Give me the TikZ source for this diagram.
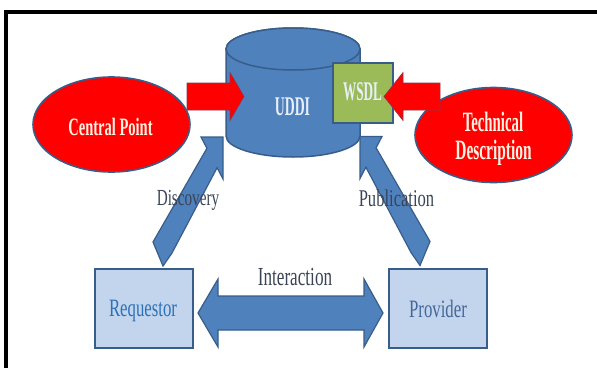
\documentclass[tikz,border=0pt]{standalone}
\usepackage{fontspec}
\setmainfont{Liberation Serif}
\usetikzlibrary{shapes.geometric,calc}

\definecolor{accent}{HTML}{4F81BD}
\definecolor{edge}{HTML}{385D8A}
\definecolor{leaf}{HTML}{9BBB59}
\definecolor{pale}{HTML}{C3D5EC}
\definecolor{hot}{HTML}{FF0000}
\definecolor{ink}{HTML}{3A4456}
\definecolor{cream}{HTML}{FFF3E4}
\definecolor{frost}{HTML}{E8EFF8}
\definecolor{reqblue}{HTML}{2C71B8}
\definecolor{provblue}{HTML}{44679A}

% horizontally condensed text
\newcommand\sq[2]{\scalebox{#1}[1]{#2}}

\tikzset{
  redblob/.style={ellipse, fill=hot, draw=edge, line width=1.6pt,
    minimum width=157pt, minimum height=95pt, inner sep=0pt},
  actor/.style={rectangle, fill=pale, draw=edge, line width=2pt,
    minimum width=98pt, minimum height=79pt, inner sep=0pt},
  bluearrow/.style={fill=accent, draw=edge, line width=1.2pt, line join=miter},
  redarrow/.style={fill=hot, draw=edge!55!hot, line width=0.6pt, line join=miter},
  lbl/.style={anchor=base, inner sep=0pt},
  boldtext/.style={font=\bfseries\fontsize{#1}{#1}\selectfont},
  plaintext/.style={font=\fontsize{#1}{#1}\selectfont},
}

\begin{document}
\begin{tikzpicture}[x=1pt, y=-1pt]
\useasboundingbox (0,0) rectangle (597,367);

% frame
\draw[line width=4pt, line join=miter] (5.5,370) -- (5.5,11.5) -- (600,11.5);

% red ellipses
\node[redblob] (cp) at (111.5,124.5) {};
\node[redblob] (td) at (493.5,135) {};

% UDDI registry cylinder
\coordinate (db) at (293,92.5);
\path[fill=accent, draw=edge, line width=1.5pt]
  ($(db)+(-67,-43.5)$) -- ($(db)+(-67,43.5)$)
  arc[start angle=180, end angle=0, x radius=67, y radius=21]
  -- ($(db)+(67,-43.5)$)
  arc[start angle=0, end angle=-180, x radius=67, y radius=21] -- cycle;
\draw[fill=accent, draw=edge, line width=1.5pt] ($(db)+(0,-43.5)$) ellipse[x radius=67, y radius=21];

% WSDL document
\node[rectangle, fill=leaf, draw=edge, line width=1.5pt, minimum width=60pt,
      minimum height=60pt, inner sep=0pt] (wsdl) at (363,93) {};

% red block arrows into the registry
\coordinate (rl) at (187,96.5);
\coordinate (rlt) at (244,96.5);
\draw[redarrow] (rl) -- ++(0,-13.5) -- ($(rlt)+(-14,-13.5)$) -- ($(rlt)+(-14,-24)$)
  -- (rlt) -- ($(rlt)+(-14,24)$) -- ($(rlt)+(-14,13.5)$) -- ($(rl)+(0,13.5)$) -- cycle;
\coordinate (rr) at (440,96.5);
\coordinate (rrt) at (384,96.5);
\draw[redarrow] (rr) -- ++(0,-13.5) -- ($(rrt)+(19,-13.5)$) -- ($(rrt)+(19,-24)$)
  -- (rrt) -- ($(rrt)+(19,24)$) -- ($(rrt)+(19,13.5)$) -- ($(rr)+(0,13.5)$) -- cycle;

% requestor and provider
\node[actor] (req) at (144,308.5) {};
\node[actor] (prov) at (438,308) {};

% discovery arrow
\coordinate (dT) at ($(req.north)+(19,-2)$);
\draw[bluearrow, shift={(dT)}] (0,0) -- (-10,-24) -- (43.9,-117.7) -- (38,-129)
  -- (60,-129) -- (60,-87) -- (54.1,-98.3) -- (9,-13) -- cycle;

% publication arrow
\coordinate (pT) at ($(prov.north)+(-18,-2)$);
\draw[bluearrow, shift={(pT)}] (0,0) -- (10,-24) -- (-43.9,-117.7) -- (-38,-129)
  -- (-60,-129) -- (-60,-87) -- (-54.1,-98.3) -- (-9,-13) -- cycle;

% interaction double arrow
\coordinate (iL) at ($(req.east)+(4,4.5)$);
\coordinate (iR) at ($(prov.west)+(-5,5)$);
\draw[bluearrow] (iL) -- ($(iL)+(20,-34)$) -- ($(iL)+(20,-17)$) -- ($(iR)+(-19,-17)$)
  -- ($(iR)+(-19,-34)$) -- (iR) -- ($(iR)+(-19,34)$) -- ($(iR)+(-19,17)$)
  -- ($(iL)+(20,17)$) -- ($(iL)+(20,34)$) -- cycle;

% texts
\node[lbl, text=cream, boldtext=25] (cpt) at ($(cp.center)+(-1,11)$) {\sq{0.58}{Central Point}};
\node[lbl, text=cream, boldtext=28] (tdt1) at ($(td.center)+(-0.5,-3.5)$) {\sq{0.53}{Technical}};
\node[lbl, text=cream, boldtext=28] (tdt2) at ($(td.center)+(0,24)$) {\sq{0.55}{Description}};
\node[lbl, text=frost, boldtext=27] (dbt) at ($(db)+(-0.5,22.5)$) {\sq{0.51}{UDDI}};
\node[lbl, text=frost, boldtext=27] (wsdlt) at ($(wsdl.center)+(-0.5,7)$) {\sq{0.49}{WSDL}};
\node[lbl, text=reqblue, plaintext=25] (reqt) at ($(req.center)+(-1,8.2)$) {\sq{0.67}{Requestor}};
\node[lbl, text=provblue, plaintext=25] (provt) at ($(prov.center)+(0,9.5)$) {\sq{0.67}{Provider}};
\node[lbl, text=ink, plaintext=26] (it) at ($(iL)!0.5!(iR)+(4.5,-28)$) {\sq{0.66}{Interaction}};
\node[lbl, text=ink, plaintext=23] (dt) at (188,205) {\sq{0.66}{Discovery}};
\node[lbl, text=ink, plaintext=24] (pt) at (396.5,206) {\sq{0.69}{Publication}};
\end{tikzpicture}
\end{document}
